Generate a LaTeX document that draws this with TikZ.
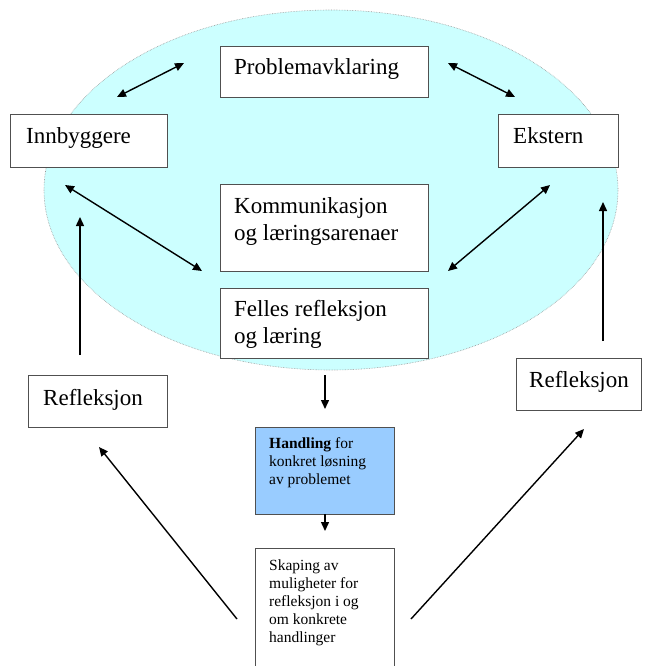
\documentclass[tikz,border=0pt]{standalone}
\usepackage{fontspec}
\setmainfont{Liberation Serif}
\usetikzlibrary{arrows.meta}
\definecolor{ellcol}{HTML}{CCFFFF}
\definecolor{handcol}{HTML}{99CCFF}
\definecolor{boxline}{HTML}{505050}
\begin{document}
\begin{tikzpicture}[x=1pt,y=-1pt,
  box/.style={draw=boxline,line width=1.1pt,fill=white,rectangle,inner sep=0pt,anchor=north west},
  big/.style={font=\fontsize{23}{27}\selectfont,anchor=base west,inner sep=0pt,align=left},
  small/.style={font=\fontsize{15.5}{18}\selectfont,anchor=base west,inner sep=0pt,align=left},
  arr/.style={line width=1.4pt,-{Triangle[length=9pt,width=8pt]}},
  darr/.style={line width=1.4pt,{Triangle[length=9pt,width=8pt]}-{Triangle[length=9pt,width=8pt]}}]
\useasboundingbox (0,0) rectangle (647,666);
\fill[white] (0,0) rectangle (647,666);
% ellipse
\draw[fill=ellcol,draw=gray!80,line width=0.6pt,densely dotted] (331,190) ellipse [x radius=287, y radius=180];
% boxes (text nodes anchored at the baseline of their last line)
\node[box,minimum width=208pt,minimum height=51pt] (prob) at (220,46) {};
\node[big] (probt) at (234,75) {Problemavklaring};
\node[box,minimum width=157pt,minimum height=53pt] (inn) at (10,114) {};
\node[big] (innt) at (26,143) {Innbyggere};
\node[box,minimum width=120pt,minimum height=53pt] (eks) at (498,114) {};
\node[big] (ekst) at (513,143) {Ekstern};
\node[box,minimum width=208pt,minimum height=87pt] (kom) at (220,184) {};
\node[big] (komt) at (234,240) {Kommunikasjon\\og læringsarenaer};
\node[box,minimum width=208pt,minimum height=70pt] (fel) at (220,288) {};
\node[big] (felt) at (234,343) {Felles refleksjon\\og læring};
\node[box,minimum width=139pt,minimum height=52pt] (refl) at (28,375) {};
\node[big] (reflt) at (43,405) {Refleksjon};
\node[box,minimum width=125pt,minimum height=52pt] (refr) at (516,358) {};
\node[big] (refrt) at (529,387) {Refleksjon};
\node[box,fill=handcol,minimum width=139pt,minimum height=87pt] (hand) at (255,427) {};
\node[small] (handt) at (269,484) {\textbf{Handling} for\\konkret løsning\\av problemet};
\node[box,minimum width=139pt,minimum height=130pt] (skap) at (255,548) {};
\node[small] (skapt) at (269,642) {Skaping av\\muligheter for\\refleksjon i og\\om konkrete\\handlinger};
% arrow end points
\coordinate (a1s) at (117,97);  \coordinate (a1e) at (184,63);
\coordinate (a2s) at (448,63);  \coordinate (a2e) at (515,97);
\coordinate (a3s) at (65,185);  \coordinate (a3e) at (202,271);
\coordinate (a4s) at (550,185); \coordinate (a4e) at (448,271);
\coordinate (a5s) at (80,355);  \coordinate (a5e) at (80,217);
\coordinate (a6s) at (603,341); \coordinate (a6e) at (603,202);
\coordinate (a7s) at (325,375); \coordinate (a7e) at (325,409);
\coordinate (a8s) at (325,514); \coordinate (a8e) at (325,531);
\coordinate (a9s) at (237,619); \coordinate (a9e) at (99,447);
\coordinate (a10s) at (411,619); \coordinate (a10e) at (584,429);
% connectors
\draw[darr] (a1s) -- (a1e);
\draw[darr] (a2s) -- (a2e);
\draw[darr] (a3s) -- (a3e);
\draw[darr] (a4s) -- (a4e);
\draw[arr] (a5s) -- (a5e);
\draw[arr] (a6s) -- (a6e);
\draw[arr] (a7s) -- (a7e);
\draw[arr] (a8s) -- (a8e);
\draw[arr] (a9s) -- (a9e);
\draw[arr] (a10s) -- (a10e);
\end{tikzpicture}
\end{document}
